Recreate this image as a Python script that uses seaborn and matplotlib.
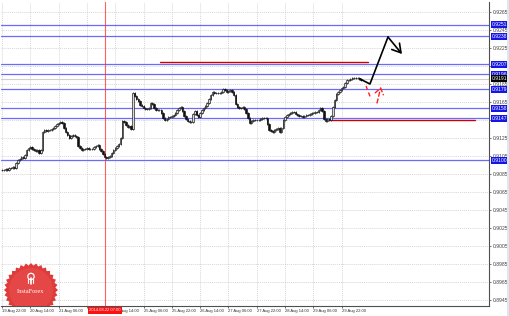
import matplotlib
matplotlib.use("Agg")
import matplotlib.pyplot as plt
import matplotlib.transforms as mtransforms
from matplotlib.patches import Polygon, Circle
import numpy as np
import seaborn as sns

# ---------------- data (hourly closes) ----------------
closes = [
    0.90894, 0.90894, 0.90906, 0.90894, 0.90917, 0.90917, 0.90928, 0.90917, 0.90972, 0.91006,
    0.91017, 0.91039, 0.91028, 0.91061, 0.91117, 0.91139, 0.91150, 0.91128, 0.91117, 0.91106,
    0.91117, 0.91083, 0.91117, 0.91317, 0.91339, 0.91328, 0.91339, 0.91339, 0.91350, 0.91361,
    0.91383, 0.91406, 0.91417, 0.91428, 0.91417, 0.91361, 0.91317, 0.91283, 0.91250, 0.91272,
    0.91283, 0.91272, 0.91261, 0.91161, 0.91139, 0.91117, 0.91128, 0.91128, 0.91139, 0.91128,
    0.91128, 0.91128, 0.91150, 0.91161, 0.91172, 0.91128, 0.91106, 0.91072, 0.91039, 0.91028,
    0.91039, 0.91050, 0.91083, 0.91117, 0.91139, 0.91161, 0.91183, 0.91250, 0.91439, 0.91428,
    0.91394, 0.91372, 0.91383, 0.91350, 0.91750, 0.91717, 0.91683, 0.91661, 0.91617, 0.91606,
    0.91583, 0.91572, 0.91572, 0.91583, 0.91639, 0.91628, 0.91583, 0.91561, 0.91561, 0.91561,
    0.91528, 0.91472, 0.91450, 0.91461, 0.91483, 0.91483, 0.91494, 0.91506, 0.91528, 0.91561,
    0.91583, 0.91594, 0.91550, 0.91494, 0.91461, 0.91439, 0.91428, 0.91428, 0.91517, 0.91550,
    0.91506, 0.91483, 0.91528, 0.91561, 0.91583, 0.91606, 0.91639, 0.91683, 0.91728, 0.91761,
    0.91750, 0.91750, 0.91750, 0.91750, 0.91761, 0.91794, 0.91783, 0.91761, 0.91772, 0.91783,
    0.91761, 0.91728, 0.91628, 0.91594, 0.91583, 0.91583, 0.91594, 0.91572, 0.91528, 0.91472,
    0.91417, 0.91439, 0.91450, 0.91450, 0.91450, 0.91450, 0.91461, 0.91472, 0.91472, 0.91472,
    0.91406, 0.91339, 0.91328, 0.91317, 0.91339, 0.91350, 0.91361, 0.91317, 0.91361, 0.91450,
    0.91483, 0.91506, 0.91517, 0.91528, 0.91539, 0.91539, 0.91517, 0.91506, 0.91494, 0.91494,
    0.91483, 0.91494, 0.91506, 0.91506, 0.91517, 0.91528, 0.91528, 0.91539, 0.91539, 0.91561,
    0.91583, 0.91550, 0.91461, 0.91439, 0.91461, 0.91450, 0.91494, 0.91594, 0.91672, 0.91739,
    0.91761, 0.91783, 0.91806, 0.91817, 0.91861, 0.91894, 0.91894, 0.91906, 0.91917, 0.91917,
    0.91917, 0.91917, 0.91906, 0.91894,
]

time_labels = ["19 Aug 22:00", "20 Aug 14:00", "21 Aug 06:00", "21 Aug 22:00",
               "22 Aug 14:00", "25 Aug 06:00", "25 Aug 22:00", "26 Aug 14:00",
               "27 Aug 06:00", "27 Aug 22:00", "28 Aug 14:00", "29 Aug 06:00",
               "29 Aug 22:00"]
label_bars = [0, 16, 32, 48, 64, 80, 96, 112, 128, 144, 160, 176, 192]

price_ticks = [0.8945, 0.8965, 0.8985, 0.9005, 0.9025, 0.9045, 0.9065, 0.9085, 0.9105,
               0.9125, 0.9145, 0.9165, 0.9185, 0.9205, 0.9225, 0.9245, 0.9265]

levels = [0.9251, 0.9238, 0.9207, 0.9196, 0.9179, 0.9158, 0.9147, 0.9100]
current_price = 0.9191

red_levels = [0.9209, 0.91455]
red_start = [89.3, 185.4]
red_end = [206.9, 267.4]

marker_bar = 58.2
marker_label = "2014.08.22 07:00"

forecast_bars = [202.4, 208.0, 218.2, 226.1]
forecast_prices = [0.91906, 0.91850, 0.92372, 0.92183]
alt_down_bars = [205.8, 208.6]
alt_down_prices = [0.91828, 0.91683]
alt_up_bars = [212.0, 214.2]
alt_up_prices = [0.91639, 0.91817]

# ---------------- style ----------------
sns.set_theme(style="white")
plt.rcParams["font.family"] = ["Liberation Sans", "DejaVu Sans"]

W, H = 510, 316
fig = plt.figure(figsize=(W / 100, H / 100), dpi=100)
fig.patch.set_facecolor("white")
ax = fig.add_axes([1 / W, 10 / H, 488 / W, 304 / H])
ax.set_facecolor("white")

BLUE = "#6a6aff"
WICK = 0.00012  # drawing padding for wicks

x = np.arange(len(closes))
c = np.array(closes)
o = np.concatenate([[c[0]], c[:-1]])
hi = np.maximum(o, c) + WICK
lo = np.minimum(o, c) - WICK
up = c >= o

# grid
for t in price_ticks:
    ax.axhline(t, color="#c8c8c8", lw=0.5, ls=(0, (1.5, 1.5)), zorder=0)
for b in label_bars:
    ax.axvline(b, color="#c8c8c8", lw=0.5, ls=(0, (1.5, 1.5)), zorder=0)

# levels
for lv in levels:
    ax.axhline(lv, color=BLUE, lw=0.9, zorder=1)
ax.axhline(current_price, color="#cfcfcf", lw=0.8, zorder=1)
for lv, s, e in zip(red_levels, red_start, red_end):
    ax.plot([s, e], [lv, lv], color="#d00000", lw=1.0, zorder=2.5)

ax.axvline(marker_bar, color="#ff2a2a", lw=0.8, alpha=0.75, zorder=1.5)

# candles
ax.vlines(x, lo, hi, color="#303030", lw=0.6, zorder=3)
bh = np.maximum(np.abs(c - o), 0.00004)
bb = np.minimum(o, c)
ax.bar(x[up], bh[up], bottom=bb[up], width=0.8, color="#d8d8d8",
       edgecolor="#101010", linewidth=0.45, zorder=4)
ax.bar(x[~up], bh[~up], bottom=bb[~up], width=0.8, color="#101010",
       edgecolor="#101010", linewidth=0.45, zorder=4)

# forecast paths
sns.lineplot(x=forecast_bars[:-1], y=forecast_prices[:-1], sort=False,
             color="black", lw=1.2, ax=ax, zorder=6)
ax.annotate("", xy=(forecast_bars[-1], forecast_prices[-1]),
            xytext=(forecast_bars[-2], forecast_prices[-2]),
            arrowprops=dict(arrowstyle="->,head_length=0.5,head_width=0.3",
                            color="black", lw=1.2, shrinkA=0, shrinkB=0), zorder=6)
sns.lineplot(x=alt_down_bars, y=alt_down_prices, sort=False, color="#ff2020",
             lw=1.0, ax=ax, zorder=6, dashes=False, linestyle=(0, (3, 2)))
ax.annotate("", xy=(alt_up_bars[1], alt_up_prices[1]),
            xytext=(alt_up_bars[0], alt_up_prices[0]),
            arrowprops=dict(arrowstyle="->,head_length=0.35,head_width=0.25",
                            color="#ff2020", lw=1.0, ls=(0, (3, 2)),
                            shrinkA=0, shrinkB=0), zorder=6)

# axes
ax.set_xlim(-0.565, 275.3)
ax.set_ylim(0.893833, 0.927611)
ax.set_xticks(label_bars)
# the 21 Aug 22:00 label sits under the date marker box
ax.set_xticklabels(["" if lab == "21 Aug 22:00" else lab for lab in time_labels])
ax.set_yticks(price_ticks)
# tick labels hidden behind level boxes are left blank
box_levels = levels + [current_price]
ax.set_yticklabels(["" if min(abs(t - b) for b in box_levels) < 0.00045 else f"{t:.4f}"
                    for t in price_ticks])
ax.yaxis.tick_right()
ax.tick_params(axis="y", labelsize=3.6, colors="#404040", length=1.5, width=0.5, pad=1.2,
               direction="out", right=True, left=False)
ax.tick_params(axis="x", labelsize=3.0, colors="#303030", length=1.5, width=0.5, pad=1.0,
               direction="out", bottom=True)
for lab in ax.get_xticklabels():
    lab.set_horizontalalignment("left")
for sp in ["left", "top"]:
    ax.spines[sp].set_visible(False)
for sp in ["right", "bottom"]:
    ax.spines[sp].set_color("#505050")
    ax.spines[sp].set_linewidth(0.8)
ax.set_xlabel("")
ax.set_ylabel("")

# level labels on the price scale
tr_y = mtransforms.blended_transform_factory(ax.transAxes, ax.transData)
for lv in levels:
    ax.text(1.006, lv, f"{lv:.4f}", transform=tr_y, ha="left", va="center",
            fontsize=3.6, color="white", clip_on=False, zorder=10,
            bbox=dict(boxstyle="square,pad=0.2", fc="#1515e6", ec="none"))
ax.text(1.006, current_price, f"{current_price:.4f}", transform=tr_y, ha="left",
        va="center", fontsize=3.6, color="white", clip_on=False, zorder=11,
        bbox=dict(boxstyle="square,pad=0.2", fc="black", ec="none"))

# date marker label
tr_x = mtransforms.blended_transform_factory(ax.transData, ax.transAxes)
ax.text(marker_bar, -0.007, marker_label, transform=tr_x, ha="center", va="top",
        fontsize=3.0, color="white", clip_on=False, zorder=12,
        bbox=dict(boxstyle="square,pad=0.35", fc="#ff1010", ec="none"))

# scroll strip at the right edge
fig.patches.append(plt.Rectangle((507 / W, 0), 3 / W, 1, transform=fig.transFigure,
                                 fc="#dde6f3", ec="none"))

# InstaForex badge
lax = fig.add_axes([4 / W, 10 / H, 54 / W, 43 / H])
lax.set_xlim(-27, 27)
lax.set_ylim(-16, 27)
lax.axis("off")
lax.patch.set_alpha(0)
n = 32
ang = np.linspace(0, 2 * np.pi, 2 * n, endpoint=False)
rad = np.where(np.arange(2 * n) % 2 == 0, 27, 24.5)
star = np.column_stack([rad * np.cos(ang), rad * np.sin(ang)])
lax.add_patch(Polygon(star, closed=True, fc="#de3b3b", ec="none"))
lax.add_patch(Circle((0, 0), 22, fc="#e54747", ec="none"))
lax.add_patch(Circle((0, 13.5), 3.2, fc="none", ec="white", lw=0.9))
lax.plot([0, 0], [6.5, 12], color="white", lw=1.2)
lax.plot([-2.5, -2.5], [7, 11], color="white", lw=0.8)
lax.plot([2.5, 2.5], [7, 11], color="white", lw=0.8)
lax.text(0, -1.5, "InstaForex", ha="center", va="center", fontsize=4.6,
         color="white", family=["Liberation Serif", "DejaVu Serif"])

fig.savefig("out.png", dpi=100)
